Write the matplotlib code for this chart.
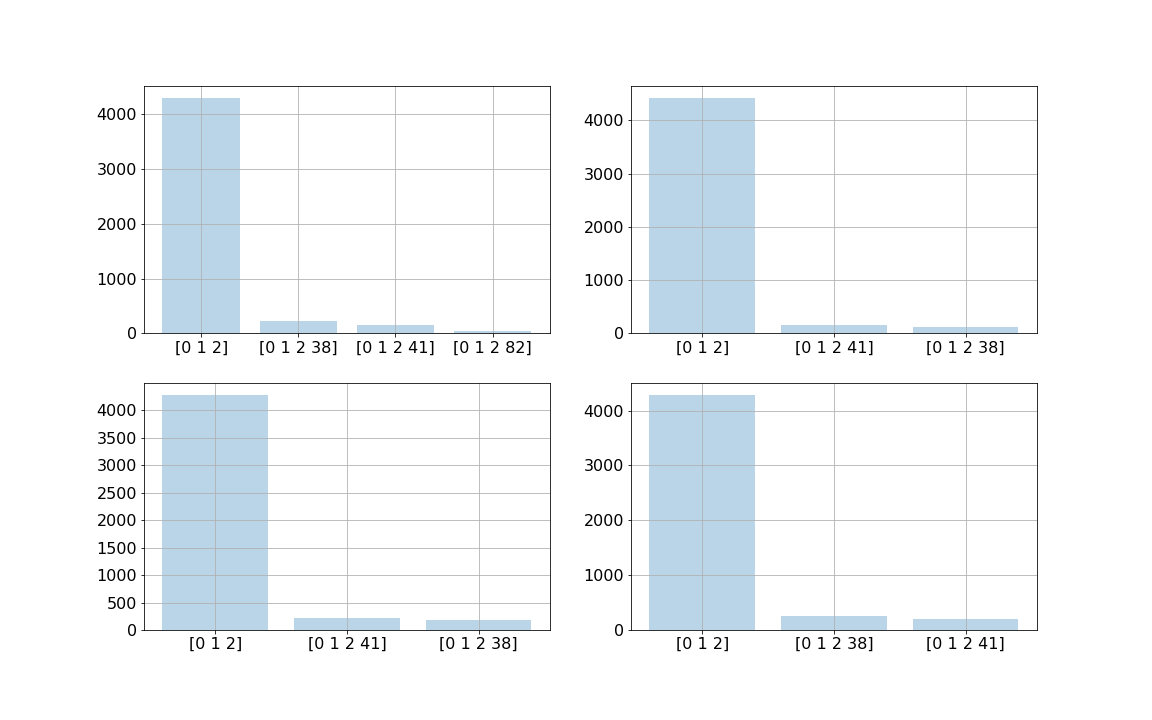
import matplotlib
matplotlib.use("Agg")
import matplotlib.pyplot as plt
from matplotlib.ticker import MaxNLocator

labels1 = ["[0 1 2]", "[0 1 2 38]", "[0 1 2 41]", "[0 1 2 82]"]
values1 = [4295, 237, 164, 40]
labels2 = ["[0 1 2]", "[0 1 2 41]", "[0 1 2 38]"]
values2 = [4415, 150, 131]
labels3 = ["[0 1 2]", "[0 1 2 41]", "[0 1 2 38]"]
values3 = [4280, 217, 181]
labels4 = ["[0 1 2]", "[0 1 2 38]", "[0 1 2 41]"]
values4 = [4290, 260, 200]

plt.rcParams['font.size'] = 16
fig, axes = plt.subplots(2, 2, figsize=(16, 10), dpi=72)
fig.subplots_adjust(left=0.125, right=0.9, bottom=0.125, top=0.88, wspace=0.2, hspace=0.2)

for ax, labs, vals in zip(axes.flat, [labels1, labels2, labels3, labels4],
                          [values1, values2, values3, values4]):
    ax.bar(labs, vals, color="tab:blue", alpha=0.3)
    ax.yaxis.set_major_locator(MaxNLocator(nbins=9, steps=[1, 2, 2.5, 5, 10]))
    ax.grid(True)

fig.savefig("out.png", dpi=72)
